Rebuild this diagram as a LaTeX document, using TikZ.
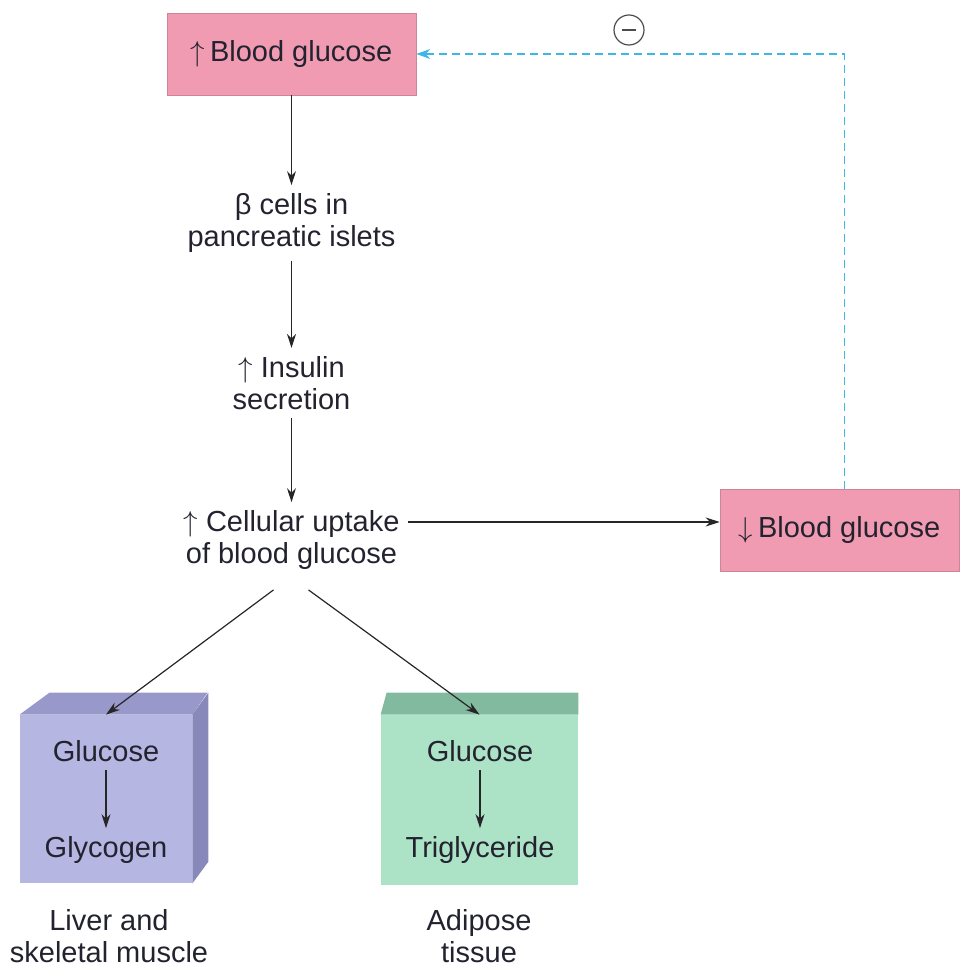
\documentclass[tikz,border=0pt]{standalone}
\usepackage{fontspec}
\setmainfont{Liberation Sans}
\usetikzlibrary{arrows.meta}

\definecolor{glupink}{RGB}{241,155,178}
\definecolor{liverfront}{RGB}{182,182,226}
\definecolor{livertop}{RGB}{152,152,202}
\definecolor{liverside}{RGB}{136,136,186}
\definecolor{fatfront}{RGB}{172,226,198}
\definecolor{fattop}{RGB}{130,186,160}
\definecolor{feedback}{RGB}{64,182,230}
\definecolor{inktext}{RGB}{35,35,48}

\tikzset{
  flow/.style={-{Stealth[length=7pt,width=4.5pt]}, line width=0.6pt, draw=black!85},
  fbline/.style={-{Stealth[length=7pt,width=5pt]}, line width=0.7pt, draw=feedback, dash pattern=on 4pt off 2.5pt},
  pinkbox/.style={fill=glupink, draw=glupink!85!black, line width=0.3pt, minimum height=41pt, text=inktext},
  stagetext/.style={align=center, inner sep=4pt, text=inktext},
  cubefront/.style={minimum width=86pt, minimum height=84pt, inner sep=0pt},
}

\begin{document}
\begin{tikzpicture}[x=0.5pt, y=-0.5pt, font=\fontsize{14.5}{16}\selectfont]
\useasboundingbox (0,0) rectangle (959,967);

% main chain
\node[pinkbox, minimum width=124.5pt] (highbg) at (291.5,54) {$\uparrow$\,Blood glucose};
\node[stagetext] (beta) at (291.5,223) {β cells in\\pancreatic islets};
\node[stagetext] (insulin) at (291.5,383) {$\uparrow$ Insulin\\secretion};
\node[stagetext] (uptake) at (291.5,540) {$\uparrow$ Cellular uptake\\of blood glucose};
\node[pinkbox, minimum width=119.5pt] (lowbg) at (839.5,530) {$\downarrow$\,Blood glucose};

\draw[flow] (highbg) -- (beta);
\draw[flow] (beta) -- (insulin);
\draw[flow] (insulin) -- (uptake);
\draw[flow] ([yshift=9pt]uptake.east) -- ([yshift=9pt]uptake.east -| lowbg.west);

% negative feedback
\node[circle, draw=black!70, line width=0.6pt, minimum size=15pt, inner sep=0pt] (neg) at (629,30) {};
\draw[black!70, line width=0.6pt] ([xshift=-3.5pt]neg.center) -- ([xshift=3.5pt]neg.center);
\draw[fbline] ([xshift=2.5pt]lowbg.north) |- (highbg.east);

% liver / muscle block
\node[cubefront, fill=liverfront] (liver) at (106,799) {};
\fill[livertop] (liver.north west) -- ++(30,-22) -- ++(158,0) -- (liver.north east) -- cycle;
\fill[liverside] (liver.north east) -- ++(16,-22) -- ++(0,169) -- (liver.south east) -- cycle;
\node[stagetext] (gluA) at (106,751) {Glucose};
\node[stagetext] (glyco) at (106,850) {Glycogen};
\draw[flow] (gluA) -- (glyco);
\node[stagetext] (liverlbl) at (109,936) {Liver and\\skeletal muscle};

% adipose block
\node[cubefront, minimum width=98.5pt, minimum height=85pt, fill=fatfront] (fat) at (479.5,800) {};
\fill[fattop] (fat.north west) -- ++(6,-22) -- ([yshift=11pt]fat.north east) -- (fat.north east) -- cycle;
\node[stagetext] (gluB) at (480,751) {Glucose};
\node[stagetext] (trig) at (480,850) {Triglyceride};
\draw[flow] (gluB) -- (trig);
\node[stagetext] (fatlbl) at (479,936) {Adipose\\tissue};

\draw[flow] ([xshift=-9pt,yshift=-6pt]uptake.south) -- (liver.north);
\draw[flow] ([xshift=8.5pt,yshift=-6pt]uptake.south) -- (fat.north);
\end{tikzpicture}
\end{document}
